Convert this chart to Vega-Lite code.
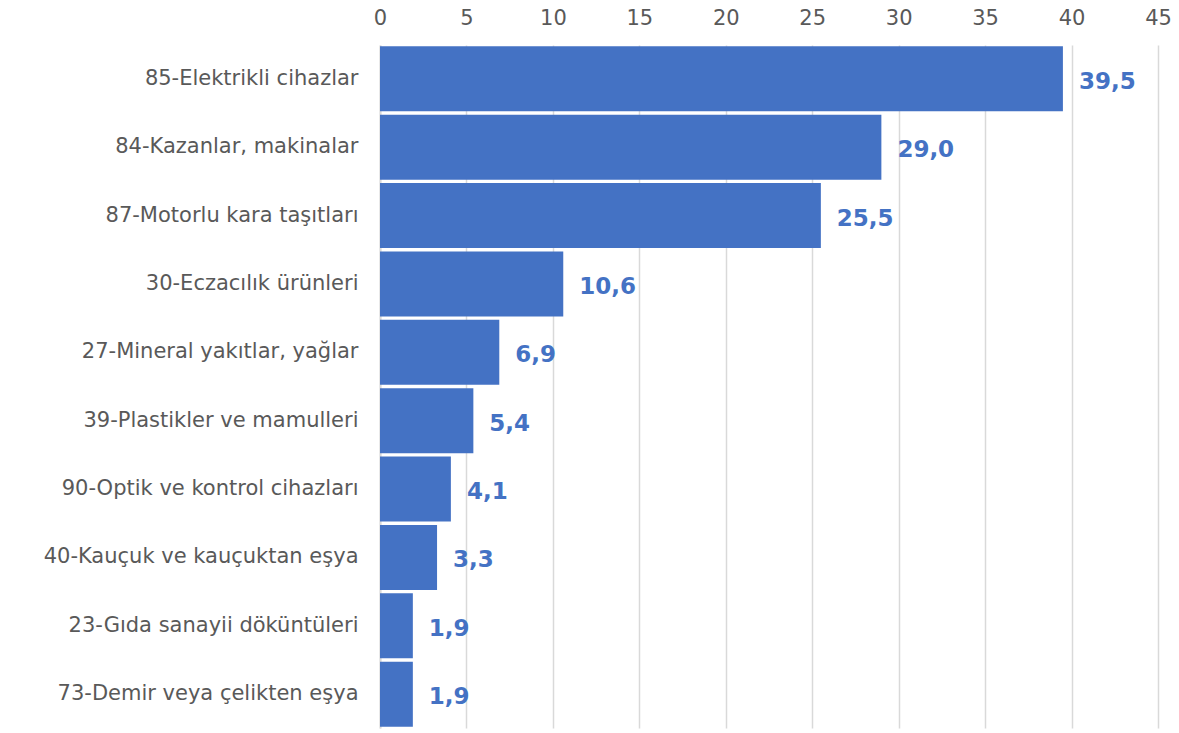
{
  "$schema": "https://vega.github.io/schema/vega-lite/v6.json",
  "autosize": "none",
  "padding": {"left": 380, "top": 45, "right": 21, "bottom": 5},
  "width": 778,
  "height": 683,
  "config": {
    "locale": {"number": {"decimal": ",", "thousands": ".", "grouping": [3], "currency": ["", " TL"]}},
    "view": {"stroke": null},
    "font": "DejaVu Sans"
  },
  "data": {
    "values": [
      {"kategori": "85-Elektrikli cihazlar", "deger": 39.5},
      {"kategori": "84-Kazanlar, makinalar", "deger": 29.0},
      {"kategori": "87-Motorlu kara taşıtları", "deger": 25.5},
      {"kategori": "30-Eczacılık ürünleri", "deger": 10.6},
      {"kategori": "27-Mineral yakıtlar, yağlar", "deger": 6.9},
      {"kategori": "39-Plastikler ve mamulleri", "deger": 5.4},
      {"kategori": "90-Optik ve kontrol cihazları", "deger": 4.1},
      {"kategori": "40-Kauçuk ve kauçuktan eşya", "deger": 3.3},
      {"kategori": "23-Gıda sanayii döküntüleri", "deger": 1.9},
      {"kategori": "73-Demir veya çelikten eşya", "deger": 1.9}
    ]
  },
  "encoding": {
    "y": {
      "field": "kategori", "type": "nominal", "sort": null,
      "scale": {"paddingInner": 0.05, "paddingOuter": 0.02},
      "axis": {"title": null, "ticks": false, "domain": true, "domainColor": "#d9d9d9", "domainWidth": 2,
               "labelFontSize": 21, "labelColor": "#595959", "labelPadding": 22, "labelLimit": 400}
    },
    "x": {
      "field": "deger", "type": "quantitative",
      "scale": {"domain": [0, 45], "nice": false},
      "axis": {"orient": "top", "title": null, "values": [0,5,10,15,20,25,30,35,40,45], "format": "d",
               "ticks": false, "domain": false, "grid": true, "gridColor": "#d9d9d9", "gridWidth": 1.5,
               "labelFontSize": 21, "labelColor": "#595959", "labelPadding": 17, "labelFlush": false}
    }
  },
  "layer": [
    {"mark": {"type": "bar", "color": "#4472C4"}},
    {"mark": {"type": "text", "align": "left", "dx": 16, "dy": 3, "fontSize": 23, "fontWeight": "bold", "color": "#4472C4", "baseline": "middle"},
     "encoding": {"text": {"field": "deger", "type": "quantitative", "format": ".1f"}}}
  ]
}
